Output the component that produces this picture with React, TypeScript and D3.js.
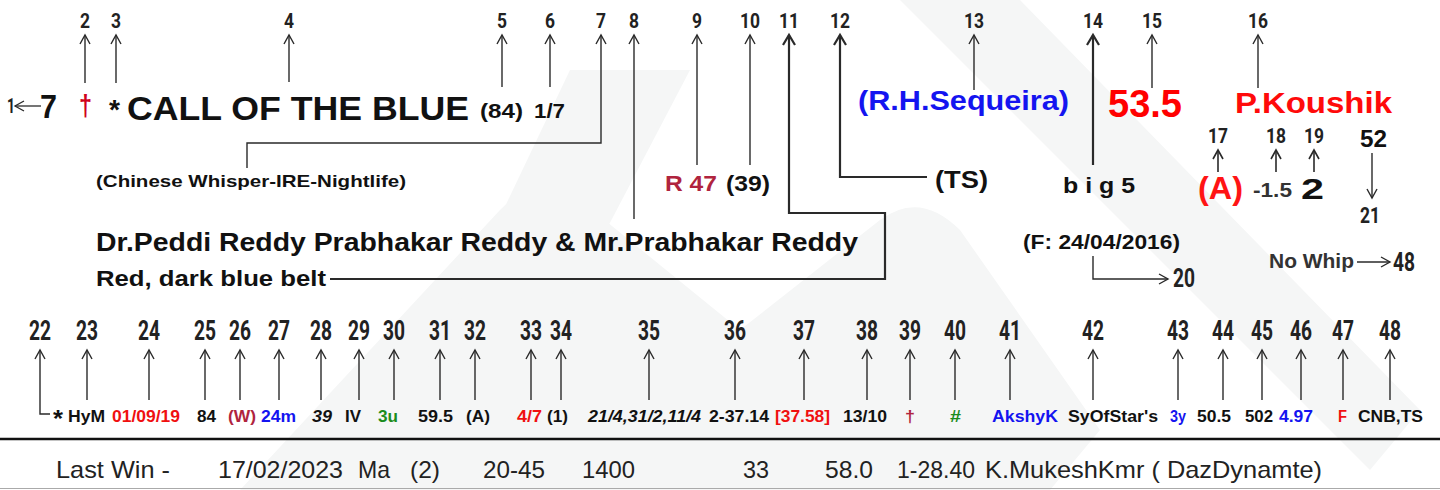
import * as d3 from "d3";
import { useLayoutEffect } from "react";

// ---- content ----
const topRefs = ["2", "3", "4", "5", "6", "7", "8", "9", "10", "11", "12", "13", "14", "15", "16"];
const headline = ["7", "†", "*", "CALL OF THE BLUE", "(84)", "1/7"];
const pedigree = "(Chinese Whisper-IRE-Nightlife)";
const owners = "Dr.Peddi Reddy Prabhakar Reddy & Mr.Prabhakar Reddy";
const silks = "Red, dark blue belt";
const rating = ["R 47", "(39)"];
const trainer = "(R.H.Sequeira)";
const weight = "53.5";
const jockey = "P.Koushik";
const trainerTag = "(TS)";
const gear = "b i g 5";
const allowance = ["(A)", "-1.5", "2"];
const allowanceRefs = ["17", "18", "19"];
const foaled = "(F: 24/04/2016)";
const bottomRefs = [
  "22", "23", "24", "25", "26", "27", "28", "29", "30", "31", "32", "33", "34", "35",
  "36", "37", "38", "39", "40", "41", "42", "43", "44", "45", "46", "47", "48",
];
const bottomFields = [
  "HyM", "01/09/19", "84", "(W)", "24m", "39", "IV", "3u", "59.5", "(A)", "4/7", "(1)",
  "21/4,31/2,11/4", "2-37.14", "[37.58]", "13/10", "†", "#", "AkshyK", "SyOfStar's",
  "3y", "50.5", "502", "4.97", "F", "CNB,TS",
];
const lastWin = [
  "Last Win -", "17/02/2023", "Ma", "(2)", "20-45", "1400", "33", "58.0", "1-28.40",
  "K.MukeshKmr ( DazDynamte)",
];

// ---- layout ----
const W = 1440;
const H = 490;
const topRefX = [85, 116, 289, 502, 550, 601, 634, 697, 750, 789, 840, 974, 1093, 1152, 1258];
const topRefEnd = [83, 83, 82, 87, 87, 143, 219, 165, 165, 213, 177, 90, 165, 88, 88];
const thick = new Set(["11", "12", "14"]);
const bottomRefX = [
  40, 87, 149, 205, 240, 279, 321, 359, 394, 440, 475, 531, 561, 649, 735, 804, 867, 910,
  955, 1010, 1093, 1178, 1223, 1262, 1301, 1343, 1390,
];
const bottomFieldX = [
  [68, 105], [112, 180], [197, 216], [228, 256], [261, 296], [312, 332], [345, 361],
  [378, 398], [418, 453], [466, 490], [517, 542], [547, 568], [588, 701], [709, 769],
  [775, 830], [843, 887], [905, 915], [950, 961], [992, 1058], [1068, 1158], [1170, 1186],
  [1197, 1231], [1245, 1273], [1279, 1313], [1338, 1347], [1358, 1423],
];
const RED = "#f01010";
const CRIMSON = "#b0243e";
const BLUE = "#1414f0";
const GREEN = "#1c8c1c";
const INK = "#111";
const bottomFieldColor = [
  INK, RED, INK, CRIMSON, BLUE, INK, INK, GREEN, INK, INK, RED, INK, INK, INK, RED, INK,
  CRIMSON, GREEN, BLUE, INK, BLUE, INK, INK, BLUE, RED, INK,
];
const italicFields = new Set([5, 12]);
const lastWinX = [
  [56, 170], [218, 343], [358, 390], [410, 440], [483, 545], [582, 635], [743, 769],
  [825, 873], [897, 975], [985, 1322],
];

const SANS = "'Liberation Sans', Arial, Helvetica, sans-serif";
const NARROW = "Roboto, 'DejaVu Sans', sans-serif";

const line = d3.line<[number, number]>();

function head(x: number, y: number, dir: "up" | "down" | "left" | "right", s = 5, l = 9) {
  const p = d3.path();
  if (dir === "up") { p.moveTo(x - s, y + l); p.lineTo(x, y); p.lineTo(x + s, y + l); }
  if (dir === "down") { p.moveTo(x - s, y - l); p.lineTo(x, y); p.lineTo(x + s, y - l); }
  if (dir === "left") { p.moveTo(x + l, y - s); p.lineTo(x, y); p.lineTo(x + l, y + s); }
  if (dir === "right") { p.moveTo(x - l, y - s); p.lineTo(x, y); p.lineTo(x - l, y + s); }
  return p.toString();
}

type TProps = {
  x: number; y: number; size: number; text: string; w?: number; fill?: string;
  weight?: string | number; family?: string; anchor?: string; italic?: boolean;
};
function T({ x, y, size, text, w, fill = INK, weight = "bold", family = SANS, anchor = "start", italic }: TProps) {
  return (
    <text
      x={x}
      y={y}
      fontSize={size}
      fill={fill}
      fontWeight={weight}
      fontFamily={family}
      textAnchor={anchor}
      fontStyle={italic ? "italic" : "normal"}
      textLength={w}
      lengthAdjust={w ? "spacingAndGlyphs" : undefined}
    >
      {text}
    </text>
  );
}

// reference number in the narrow heavy face
function Ref({ x, y, text, size, per }: { x: number; y: number; text: string; size: number; per: number }) {
  return <T x={x} y={y} size={size} text={text} family={NARROW} anchor="middle" fill="#222" w={per * text.length} />;
}

function Arrow({ pts, dir, sw = 1.4, tip = "start" }: { pts: [number, number][]; dir: "up" | "down" | "left" | "right"; sw?: number; tip?: "start" | "end" }) {
  const [tx, ty] = tip === "start" ? pts[0] : pts[pts.length - 1];
  return (
    <g fill="none" stroke="#2a2a2a" strokeWidth={sw}>
      <path d={line(pts) ?? ""} />
      <path d={head(tx, ty, dir, sw > 1.6 ? 6 : 5, sw > 1.6 ? 10 : 9)} />
    </g>
  );
}

export default function App() {
  useLayoutEffect(() => {
    document.body.style.margin = "0";
  }, []);

  const TOP_TIP = 35;
  const BOT_TIP = 350;

  return (
    <svg width={W} height={H} viewBox={`0 0 ${W} ${H}`} style={{ display: "block", background: "#fff" }}>
      {/* faint watermark */}
      <g fill="#f5f6f6">
        <path d="M240,490 L500,210 Q540,170 580,200 L740,330 L880,220 Q920,190 960,230 L1100,430 L1050,490 Z" />
        <path d="M900,0 L1020,0 L1420,410 L1370,470 Z" />
        <path d="M570,70 L690,70 L470,490 L370,490 Z" />
      </g>

      {/* top reference numbers */}
      {topRefs.map((r, i) => (
        <Ref key={r} x={topRefX[i]} y={28} text={r} size={20} per={10} />
      ))}
      {topRefs.map((r, i) => {
        const x = topRefX[i];
        const end = topRefEnd[i];
        let pts: [number, number][] = [[x, TOP_TIP], [x, end]];
        if (r === "7") pts = [[x, TOP_TIP], [x, 143], [247, 143], [247, 168]];
        if (r === "11") pts = [[x, TOP_TIP], [x, 213], [885, 213], [885, 279], [330, 279]];
        if (r === "12") pts = [[x, TOP_TIP], [x, 177], [927, 177]];
        return <Arrow key={"a" + r} pts={pts} dir="up" sw={thick.has(r) ? 2.2 : 1.4} />;
      })}

      {/* headline row */}
      <T x={7} y={113} size={21} text="1" family={NARROW} w={8} fill="#222" />
      <Arrow pts={[[41, 106], [15, 106]]} dir="left" tip="end" sw={1.3} />
      <T x={40} y={118} size={33} text={headline[0]} w={17} />
      <T x={79} y={116} size={30} text={headline[1]} fill="#d0021b" w={13} />
      <T x={109} y={119} size={28} text={headline[2]} w={11} />
      <T x={127} y={120} size={34} text={headline[3]} w={342} />
      <T x={480} y={118} size={21} text={headline[4]} w={43} />
      <T x={534} y={118} size={21} text={headline[5]} w={31} />

      <T x={858} y={110} size={28} text={trainer} fill={BLUE} w={211} />
      <T x={1108} y={117} size={38} text={weight} fill="#ff0000" w={74} />
      <T x={1235} y={113} size={30} text={jockey} fill="#ff0a0a" w={157} />

      {/* second row */}
      <T x={96} y={187} size={17} text={pedigree} w={310} />
      <T x={665} y={191} size={22} text={rating[0]} fill={CRIMSON} w={52} />
      <T x={726} y={191} size={22} text={rating[1]} w={44} />
      <T x={935} y={188} size={24} text={trainerTag} w={53} />
      <T x={1063} y={193} size={22} text={gear} w={72} />

      {allowanceRefs.map((r, i) => {
        const x = [1218, 1276, 1314][i];
        return (
          <g key={r}>
            <Ref x={x} y={143} text={r} size={21} per={10} />
            <Arrow pts={[[x, 150], [x, 172]]} dir="up" sw={1.6} />
          </g>
        );
      })}
      <T x={1198} y={199} size={31} text={allowance[0]} fill="#ff1414" w={45} />
      <T x={1253} y={197} size={20} text={allowance[1]} fill="#333" w={39} />
      <T x={1301} y={199} size={30} text={allowance[2]} w={23} />
      <T x={1360} y={147} size={23} text="52" w={27} />
      <Arrow pts={[[1372, 153], [1372, 198]]} dir="down" tip="end" sw={1.4} />
      <Ref x={1370} y={223} text="21" size={22} per={10} />

      {/* owners & silks */}
      <T x={96} y={251} size={26} text={owners} w={762} />
      <T x={96} y={286} size={22} text={silks} w={230} />
      <T x={1023} y={249} size={20} text={foaled} w={157} />
      <Arrow pts={[[1093, 256], [1093, 279], [1168, 279]]} dir="right" tip="end" sw={1.4} />
      <Ref x={1184} y={287} text="20" size={25} per={11} />
      <T x={1269} y={268} size={20} text="No Whip" fill="#333" w={85} />
      <Arrow pts={[[1357, 262], [1390, 262]]} dir="right" tip="end" sw={1.4} />
      <Ref x={1404} y={271} text="48" size={25} per={11} />

      {/* bottom reference numbers */}
      {bottomRefs.map((r, i) => (
        <Ref key={"b" + r} x={bottomRefX[i]} y={340} text={r} size={27} per={11} />
      ))}
      {bottomRefs.map((r, i) => {
        const x = bottomRefX[i];
        const pts: [number, number][] = r === "22" ? [[x, BOT_TIP], [x, 414], [50, 414]] : [[x, BOT_TIP], [x, 400]];
        return <Arrow key={"ba" + r} pts={pts} dir="up" sw={1.4} />;
      })}

      {/* bottom fields */}
      <T x={53} y={427} size={24} text="*" w={10} />
      {bottomFields.map((f, i) => (
        <T
          key={"f" + i}
          x={bottomFieldX[i][0]}
          y={422}
          size={16}
          text={f}
          fill={bottomFieldColor[i]}
          italic={italicFields.has(i)}
          w={bottomFieldX[i][1] - bottomFieldX[i][0]}
        />
      ))}

      {/* rule + last win line */}
      <line x1={0} x2={W} y1={439} y2={439} stroke="#111" strokeWidth={2.5} />
      {lastWin.map((s, i) => (
        <T
          key={"l" + i}
          x={lastWinX[i][0]}
          y={478}
          size={24}
          text={s}
          weight="normal"
          fill="#222"
          w={lastWinX[i][1] - lastWinX[i][0]}
        />
      ))}
      <line x1={0} x2={W} y1={488.5} y2={488.5} stroke="#aaa" strokeWidth={1} />
    </svg>
  );
}
